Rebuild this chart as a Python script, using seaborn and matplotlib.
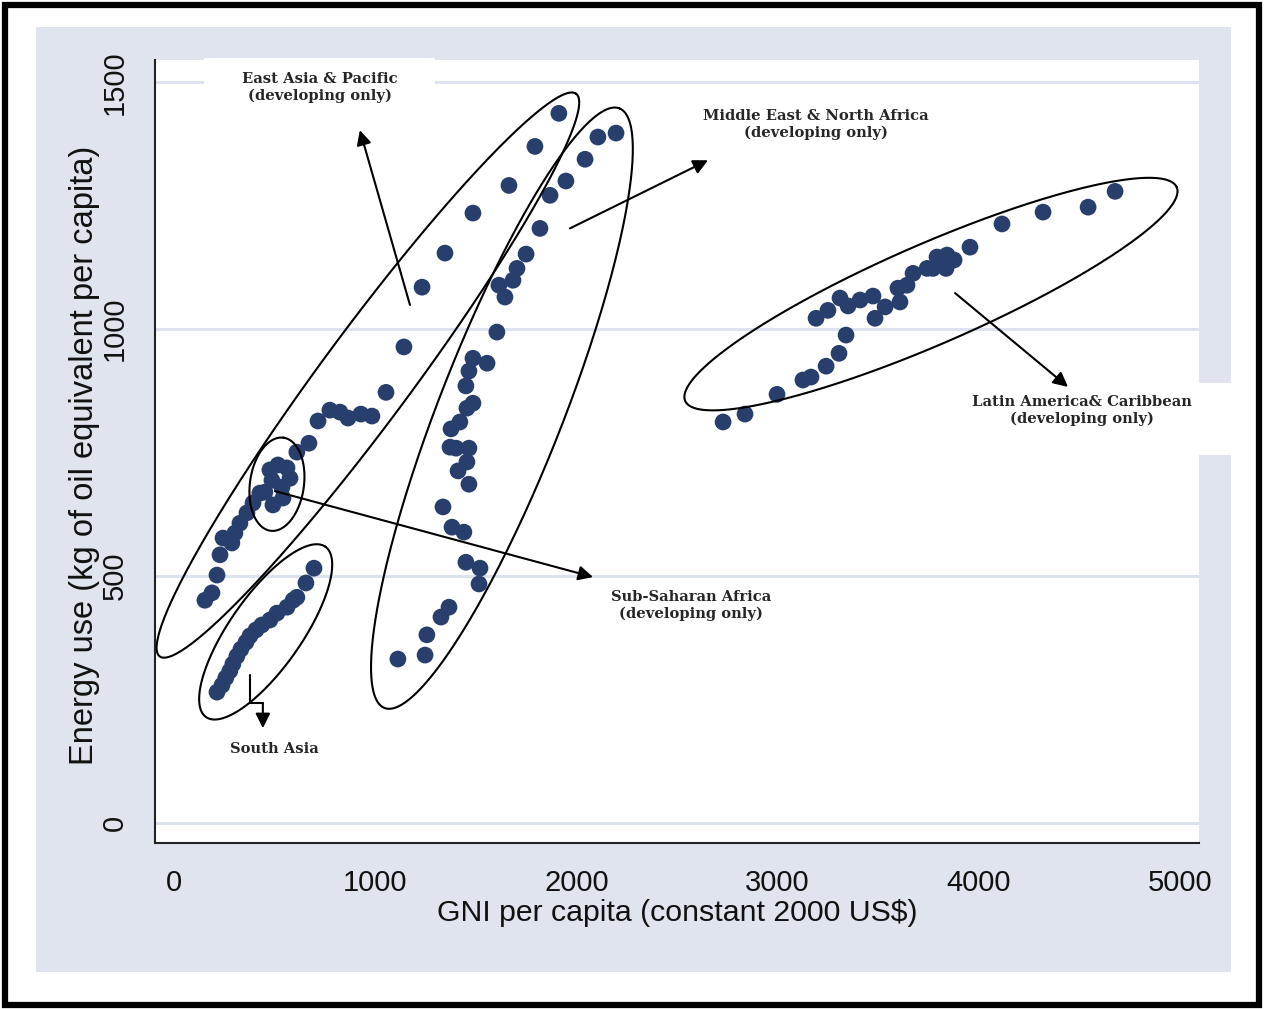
import numpy as np
import pandas as pd
import matplotlib
matplotlib.use("Agg")
import matplotlib.pyplot as plt
from matplotlib.patches import Rectangle
import seaborn as sns

# ---------------- data ----------------
eap_gni = [154, 189, 214, 229, 244, 288, 303, 328, 363, 393, 427, 452, 477, 517, 562, 577, 537, 487, 492, 542,
           611, 671, 716, 775, 825, 865, 929, 984, 1054, 1143, 1233, 1347, 1486, 1665, 1794, 1913]
eap_energy = [451, 466, 502, 543, 577, 567, 587, 607, 628, 648, 668, 670, 715, 725, 719, 698, 680, 694, 644, 658,
              751, 769, 814, 836, 832, 820, 828, 824, 872, 964, 1085, 1154, 1235, 1291, 1370, 1437]

mena_gni = [2197, 2107, 2043, 1948, 1869, 1819, 1750, 1705, 1685, 1615, 1645, 1605, 1556, 1486, 1466, 1451, 1486,
            1456, 1421, 1377, 1372, 1402, 1466, 1456, 1412, 1466, 1337, 1382, 1441, 1451, 1521, 1516, 1367, 1327,
            1257, 1248, 1113]
mena_energy = [1397, 1389, 1344, 1300, 1271, 1204, 1152, 1123, 1099, 1089, 1065, 994, 931, 941, 915, 885, 850,
               840, 812, 798, 761, 759, 759, 731, 713, 686, 640, 599, 589, 528, 516, 484, 437, 417, 381, 340, 332]

lac_gni = [2729, 2838, 2997, 3126, 3166, 3241, 3305, 3340, 3191, 3250, 3310, 3350, 3410, 3474, 3484, 3534, 3608,
           3598, 3643, 3673, 3743, 3772, 3837, 3792, 3842, 3877, 3956, 4115, 4319, 4543, 4677]
lac_energy = [812, 828, 868, 897, 903, 925, 951, 988, 1022, 1038, 1063, 1047, 1059, 1067, 1022, 1045, 1055, 1083,
              1089, 1113, 1123, 1123, 1123, 1146, 1150, 1140, 1166, 1213, 1237, 1247, 1279]

sa_gni = [214, 239, 258, 278, 293, 313, 333, 358, 378, 408, 437, 477, 512, 562, 592, 611, 656, 696]
sa_energy = [265, 279, 294, 308, 322, 338, 352, 366, 379, 391, 401, 411, 425, 437, 451, 457, 486, 516]

x_ticks = [0, 1000, 2000, 3000, 4000, 5000]
y_ticks = [0, 500, 1000, 1500]
x_label = "GNI per capita (constant 2000 US$)"
y_label = "Energy use (kg of oil equivalent per capita)"

labels = {
    "eap": "East Asia & Pacific\n(developing only)",
    "mena": "Middle East & North Africa\n(developing only)",
    "lac": "Latin America& Caribbean\n(developing only)",
    "ssa": "Sub-Saharan Africa\n(developing only)",
    "sa": "South Asia",
}

df = pd.concat([
    pd.DataFrame({"gni": eap_gni, "energy": eap_energy, "region": "EAP"}),
    pd.DataFrame({"gni": mena_gni, "energy": mena_energy, "region": "MENA"}),
    pd.DataFrame({"gni": lac_gni, "energy": lac_energy, "region": "LAC"}),
    pd.DataFrame({"gni": sa_gni, "energy": sa_energy, "region": "SA"}),
], ignore_index=True)

# ---------------- style ----------------
W, H = 1267, 1009
BG = "#dfe4ee"
GRID = "#dde3ee"
NAVY = "#283f6e"

sns.set_theme(style="white")
plt.rcParams["font.family"] = ["Liberation Sans", "DejaVu Sans"]

fig = plt.figure(figsize=(W / 100, H / 100), dpi=100, facecolor="white")

def fx(px):
    return px / W

def fy(py):
    return 1 - py / H

# light bluish graph region
fig.patches.append(Rectangle((fx(36), fy(972)), fx(1231) - fx(36), fy(27) - fy(972),
                             transform=fig.transFigure, facecolor=BG, edgecolor="none", zorder=-5))
# outer black frame
fig.patches.append(Rectangle((fx(5), fy(1005)), fx(1259) - fx(5), fy(5) - fy(1005),
                             transform=fig.transFigure, facecolor="none", edgecolor="black",
                             linewidth=4.5, zorder=10))

ax = fig.add_axes([fx(155), fy(843), fx(1199) - fx(155), fy(60) - fy(843)])
ax.set_facecolor("white")
ax.set_xlim(-94, 5094)
ax.set_ylim(-40.5, 1545)

ax.set_axisbelow(True)
ax.yaxis.grid(True, color=GRID, linewidth=2.2)
ax.xaxis.grid(False)

sns.scatterplot(data=df, x="gni", y="energy", color=NAVY, s=145, edgecolor="none",
                linewidth=0, legend=False, ax=ax, zorder=3)

for side in ["top", "right"]:
    ax.spines[side].set_visible(False)
for side in ["left", "bottom"]:
    ax.spines[side].set_color("#222222")
    ax.spines[side].set_linewidth(1.5)

ax.set_xticks(x_ticks)
ax.set_yticks(y_ticks)
ax.set_xticklabels([str(v) for v in x_ticks])
ax.set_yticklabels([str(v) for v in y_ticks], rotation=90, va="center")
ax.tick_params(axis="both", direction="out", length=10, width=1.2, color="#222222",
               labelsize=21, labelcolor="#111111")
ax.tick_params(axis="x", pad=9)
ax.tick_params(axis="y", pad=9)
ax.set_xlabel(x_label, fontsize=21.8, color="#111111", labelpad=1)
ax.set_ylabel(y_label, fontsize=23.5, color="#111111")
ax.yaxis.set_label_coords((100 - 155) / 1044, 0.495)

# ---------------- white label boxes ----------------
def white_box(x0, y0, x1, y1):
    r = Rectangle((fx(x0), fy(y1)), fx(x1) - fx(x0), fy(y0) - fy(y1), transform=fig.transFigure,
                  facecolor="white", edgecolor="none", zorder=1, clip_on=False)
    ax.add_patch(r)

white_box(204, 58, 435, 112)
white_box(940, 383, 1240, 455)

# ---------------- ellipses ----------------
def ellipse(cx, cy, a_px, b_px, angle_deg):
    c = ax.transData.transform((cx, cy))
    t = np.linspace(0, 2 * np.pi, 400)
    th = np.deg2rad(angle_deg)
    ex = a_px * np.cos(t)
    ey = b_px * np.sin(t)
    px = c[0] + ex * np.cos(th) - ey * np.sin(th)
    py = c[1] + ex * np.sin(th) + ey * np.cos(th)
    d = ax.transData.inverted().transform(np.column_stack([px, py]))
    ax.plot(d[:, 0], d[:, 1], color="black", linewidth=1.5, zorder=4, clip_on=False)

ellipse(964, 907, 350, 45, 53.5)    # East Asia & Pacific
ellipse(1630, 840, 322, 62, 68.6)   # Middle East & North Africa
ellipse(512, 686, 47, 27, 82)       # Sub-Saharan Africa
ellipse(456, 387, 104, 36, 55)      # South Asia
ellipse(3762, 1071, 268, 50, 23.5)  # Latin America & Caribbean

# ---------------- arrows and labels ----------------
arrow = dict(arrowstyle="-|>", color="black", lw=1.5, mutation_scale=22, shrinkA=0, shrinkB=0)
font = dict(family="DejaVu Serif", fontweight="bold", fontsize=10.6, ha="center", va="center",
            linespacing=1.25, zorder=6)

ax.annotate("", xy=(924, 1403), xytext=(1173, 1049), arrowprops=arrow, zorder=5)
ax.text(726, 1490, labels["eap"], **font)

ax.annotate("", xy=(2654, 1342), xytext=(1968, 1204), arrowprops=arrow, zorder=5)
ax.text(3191, 1415, labels["mena"], **font)

ax.annotate("", xy=(4443, 883), xytext=(3882, 1073), arrowprops=arrow, zorder=5)
ax.text(4513, 836, labels["lac"], **font)

ax.annotate("", xy=(2083, 498), xytext=(502, 672), arrowprops=arrow, zorder=5)
ax.text(2570, 441, labels["ssa"], **font)

ax.plot([378, 378, 442], [300, 243, 243], color="black", lw=1.5, zorder=5)
ax.annotate("", xy=(442, 192), xytext=(442, 243), arrowprops=arrow, zorder=5)
ax.text(497, 150, labels["sa"], **font)

fig.savefig("out.png", dpi=100, facecolor="white")
